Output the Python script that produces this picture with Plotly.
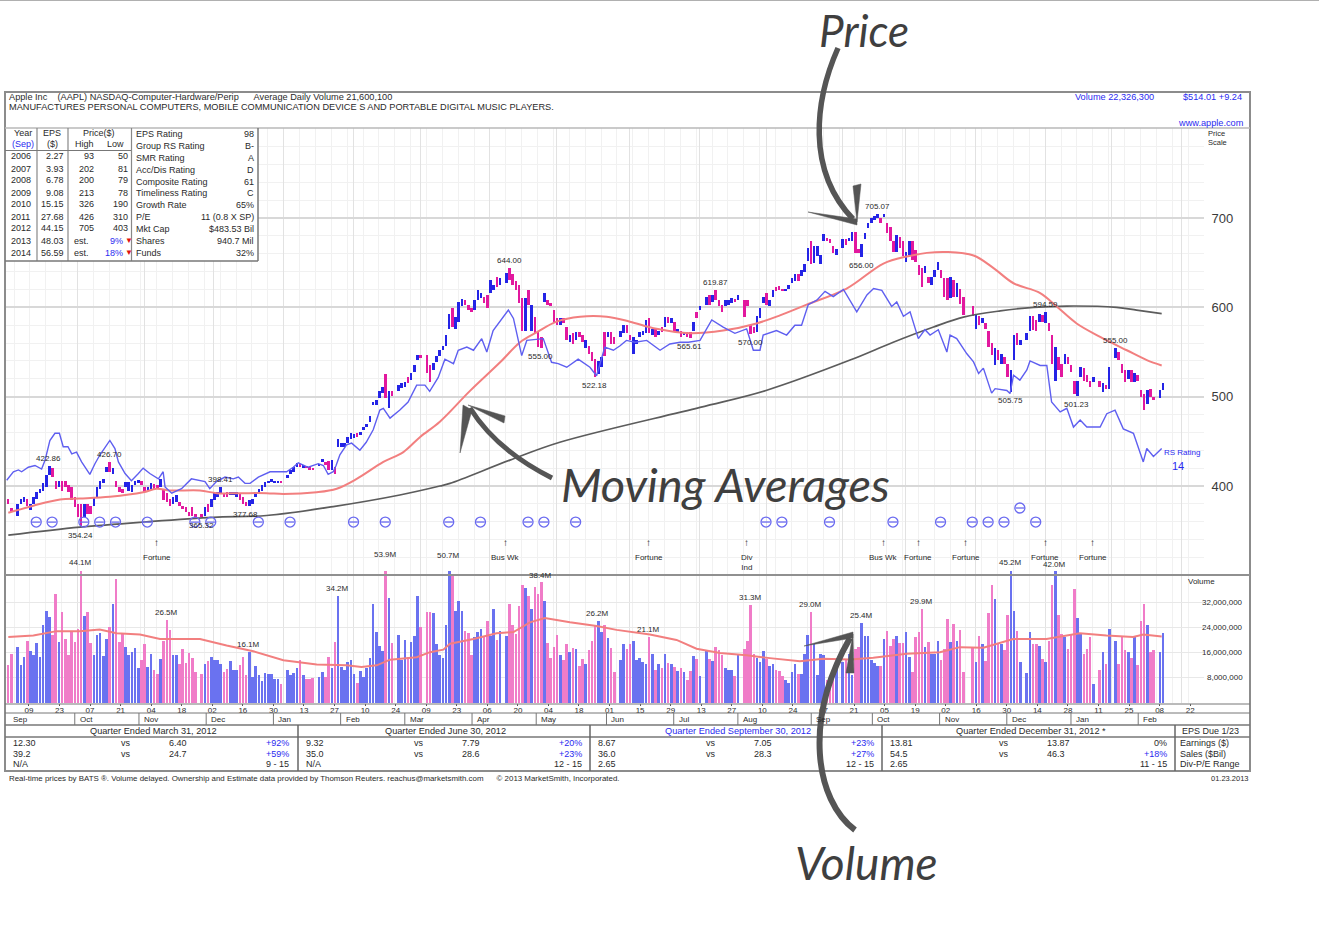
import plotly.graph_objects as go

PAGE_W, PAGE_H = 1319, 939

# Daily session flags: B = up day, P = down day, . = no bar drawn
flags = (
    ".PP.BBBPBB" "BBBBBPPBPP" "PPPPPBPPBB" "BBBPBPPPBB" "BBBPPBBPPB"
    "PPPBBPPPPP" "P.PBPBBBBP" "PBBBPPPBBB" "BBBBBBBP.B" "BBBPBPPP.B"
    "BPPBPBBBBB" "BPBBBBBBBB" "PBP.BBBPBB" "BP.PPBBBBB" "BPBBBPPPBB"
    "BPPBBPB.BP" "PPPPBPBPPP" "BPPPPBPPBP" "BPPBPPPBBP" "BPP.BBPPBB"
    "BBBPBPBPBP" "BPBPBPPBPB" ".BPBPPPBBB" "PB.PPPPBBB" "PBBPPPBBBB"
    "PBBBPBBBBP" "PPB.BPBBPP" "BBBBBBPBPP" "PBPPBBPPPP" "BPBBBPPPBP"
    "BPP..PBPBP" "PPBPBPPBBP" "B.BBPPBPBP" "PBPPBPPPBB" "PPPB.PBPB."
    "BPPPBPBPPP" "BPP.BB"
)

high = [
    None, 386, 375, None, 380, 386, 388, 386, 380, 388,
    393, 397, 403, 412, 422.86, 420, 406, 406, 406, 406,
    401, 399, 388, 380, 380, 380, 380, 378, 388, 399,
    406, 408, 421, 426.70, 420, 406, 399, 397, 405, 405,
    401, 406, 407, 406, 399, 399, 403, 402, 401, 408,
    397, 392, 386, 388, 390, 382, 378, 376, 371, 377,
    369, None, 369, 377, 380, 386, 392, 393, 398.41, 392,
    393, 393, 393, 393, 392, 388, 382, 384, 386, 393,
    397, 401, 405, 406, 408, 406, 406, 406, None, 412,
    418, 421, 426, 425, 423, 422, 421, 420, None, 425,
    430, 427, 428, 429, 421, 453, 448, 448, 455, 459,
    458, 459, 461, 466, 469, 478, 494, 496, 506, 511,
    525, 506, 506, None, 513, 515, 517, 522, 526, 535,
    547, 547, None, 547, 535, 538, 546, 552, 557, 569,
    593, 599, 589, 606, 609, 608, 603, 599, 608, 620,
    616, 612, 614, 631, 625, 634, 633, None, 638, 644.00,
    637, 629, 625, 610, 610, 620, 603, 589, 572, 567,
    616, 608, 605, 597, 588, 588, 588, 578, 569, 571,
    572, 572, 569, 563, 557, 550, 542, 540, 544, 572,
    572, 572, 567, None, 574, 580, 580, 569, 567, 563,
    572, 574, 586, 588, 576, 576, 574, 578, 589, 589,
    588, 584, 576, 574, 572, 572, 572, 584, 595, 601,
    None, 612, 614, 614, 619.87, 608, 603, 608, 608, 610,
    609, 614, None, 608, 608, 580, 578, 590, 599, 612,
    616, 608, 620, 623, 624, 621, 621, 625, 633, 637,
    637, 642, 648, 667, 674, 669, 669, 659, 682, 678,
    676, 669, 665, None, 676, 677, 678, 684, 684, 665,
    671, 683, 694, 700, 702, 705.07, 700, 704, 694, 690,
    674, 681, 679, 674, 662, 674, 674, 664, 647, 644,
    646, 634, 634, 642, 651, 642, 633, 633, 634, 631,
    627, 621, 612, None, None, 601, 591, 590, 588, 582,
    573, 560, 554, 552, 548, 545, 537, 530, 569, 571,
    563, None, 571, 590, 590, 586, 593, 591, 594.59, 582,
    569, 556, 545, 537, 548, 545, 535, 518, 518, 533,
    532, 524, 518, 522, None, 518, 515, 513, 533, None,
    555.00, 550, 537, 530, 530, 530, 526, 524, 507, 503,
    507, 509, 500, None, 507, 515,
]

low = [
    None, 380, 371, None, 367, 380, 382, 378, 373, 380,
    386, 392, 395, 399, 412, 410, 397, 399, 395, 399,
    393, 384, 377, 365, 354.24, 365, 369, 369, 378, 388,
    397, 403, 416, 416, 413, 399, 393, 392, 399, 395,
    393, 401, 403, 401, 393, 395, 397, 397, 397, 399,
    384, 382, 378, 380, 382, 378, 374, 371, 366, 367,
    364, None, 365.32, 367, 371, 377, 384, 388, 391, 388,
    388, 391, 390, 388, 384, 380, 377.68, 378, 380, 388,
    392, 395, 399, 403, 405, 403, 403, 404, None, 409,
    413, 416, 421, 421, 421, 421, 419, 418, None, 423,
    427, 423, 418, 418, 414, 444, 444, 444, 448, 453,
    454, 455, 457, 463, 466, 472, 491, 491, 498, 504,
    498, 487, 501, None, 506, 510, 511, 515, 519, 528,
    541, 543, None, 526, 517, 530, 539, 546, 552, 557,
    576, 578, 576, 584, 601, 603, 597, 595, 597, 608,
    610, 605, 599, 616, 620, 623, 625, None, 627, 631,
    625, 620, 605, 574, 574, 603, 574, 571, 556, 555.00,
    606, 603, 601, 582, 580, 580, 582, 563, 561, 559,
    563, 567, 561, 555, 548, 540, 522.18, 525, 533, 546,
    567, 559, 559, None, 567, 571, 571, 563, 548, 559,
    567, 569, 571, 571, 569, 567, 569, 572, 578, 582,
    582, 572, 571, 567, 569, 567, 565.61, 574, 588, 597,
    None, 603, 603, 606, 608, 601, 595, 601, 603, 605,
    606, 608, None, 589, 601, 570.00, 571, 572, 588, 605,
    603, 601, 612, 618, 620, 618, 618, 621, 627, 629,
    629, 635, 640, 652, 648, 650, 657, 648, 674, 674,
    672, 661, 659, None, 667, 670, 674, 674, 661, 661,
    656.00, 676, 689, 694, 698, 700, 694, 702, 683, 674,
    662, 662, 666, 657, 651, 659, 653, 651, 636, 623,
    638, 627, 625, 634, 642, 633, 612, 608, 610, 612,
    612, 604, 591, None, None, 590, 576, 580, 582, 576,
    556, 547, 535, 541, 537, 537, 522, 505.75, 541, 558,
    558, None, 563, 573, 575, 573, 584, 584, 582, 573,
    537, 518, 530, 522, 537, 537, 528, 503, 501.23, 522,
    518, 517, 511, 517, None, 511, 505, 509, 509, None,
    543, 541, 526, 517, 520, 517, 517, 518, 500, 485,
    492, 500, 496, None, 498, 507,
]

# Daily volume, millions of shares
volume = [
    None, 12.0, 15.7, None, 18.0, 12.2, 14.6, 19.9, 16.5, 15.4,
    19.1, 14.6, 25.0, 29.4, 27.5, 21.8, 34.7, 19.4, 28.9, 20.4,
    15.2, 22.9, 19.4, 23.6, 44.1, 27.8, 28.9, 19.1, 15.4, 21.8,
    22.2, 15.0, 20.4, 24.1, 31.5, 39.4, 19.4, 22.0, 17.8, 15.2,
    16.2, 17.6, 11.2, 13.6, 18.9, 11.5, 15.7, 10.4, 9.4, 14.1,
    19.9, 26.5, 23.4, 15.2, 15.4, 12.5, 17.3, 12.8, 15.9, 14.4,
    9.9, None, 9.1, 12.5, 13.3, 14.6, 13.8, 13.6, 12.5, 9.9,
    10.8, 13.4, 10.4, 10.4, 12.0, 14.6, 8.9, 16.1, 8.3, 11.9,
    8.9, 7.1, 9.6, 9.2, 9.4, 7.8, 7.5, 6.2, None, 10.6,
    8.9, 9.6, 11.3, 13.8, 8.9, 7.5, 7.5, 7.9, None, 8.3,
    9.9, 8.3, 14.6, 11.0, 19.4, 34.2, 11.5, 10.4, 13.1, 13.8,
    9.2, 6.5, 10.1, 8.3, 11.3, 14.3, 31.7, 22.6, 18.3, 16.5,
    53.9, 33.6, 19.1, None, 21.8, 13.6, 20.1, 14.6, 19.4, 21.2,
    34.1, 24.3, None, 28.9, 28.9, 28.6, 18.9, 15.2, 14.4, 24.7,
    50.7, 40.5, 29.4, 32.4, 29.2, 22.9, 22.2, 15.2, 21.0, 22.6,
    23.6, 21.2, 26.2, 21.5, 29.9, 20.1, 23.1, None, 21.2, 31.7,
    25.0, 22.0, 30.8, 37.6, 36.8, 34.1, 29.9, 37.0, 34.7, 38.4,
    32.6, 19.1, 14.4, 18.0, 21.8, 15.2, 13.8, 18.9, 16.2, 17.6,
    17.3, 11.7, 14.1, 12.3, 17.0, 19.9, 24.7, 26.2, 22.6, 24.7,
    20.8, 17.6, 9.9, None, 13.6, 18.9, 17.3, 18.7, 19.9, 13.8,
    14.4, 13.1, 12.3, 21.1, 15.5, 10.4, 12.3, 11.2, 15.7, 12.8,
    12.5, 11.5, 10.2, 11.0, 9.9, 7.3, 10.2, 14.9, 14.1, 8.5,
    None, 17.0, 14.1, 13.4, 18.0, 16.8, 15.2, 11.0, 10.6, 10.4,
    8.6, 15.7, None, 17.3, 19.9, 31.3, 15.7, 14.4, 13.1, 16.5,
    14.1, 11.7, 12.3, 10.4, 10.2, 8.5, 7.3, 6.4, 9.9, 12.3,
    9.2, 9.2, 15.7, 21.8, 29.0, 18.9, 8.9, 15.7, 15.2, 7.3,
    7.1, 10.4, 12.0, None, 13.1, 13.6, 15.7, 8.9, 17.3, 17.8,
    25.4, 21.2, 21.2, 13.8, 12.8, 11.7, 11.7, 20.4, 22.9, 18.3,
    20.4, 21.2, 19.1, 19.1, 22.6, 14.6, 9.9, 21.0, 22.6, 29.9,
    18.0, 19.4, 15.7, 15.5, 19.7, 13.8, 17.3, 26.8, 19.4, 25.2,
    19.9, 23.4, 9.9, None, None, 18.0, 13.1, 21.5, 18.9, 13.4,
    28.6, 37.6, 33.1, 18.9, 18.9, 16.8, 28.1, 45.2, 29.4, 22.9,
    13.1, None, 9.6, 22.6, 18.9, 18.7, 18.3, 14.1, 13.1, 19.9,
    37.6, 42.0, 28.1, 22.0, 21.0, 17.3, 21.8, 36.3, 27.1, 22.0,
    15.7, 17.3, 21.0, 6.0, None, 10.4, 16.2, 12.5, 23.6, None,
    19.9, 12.3, 21.2, 17.0, 16.2, 14.3, 21.2, 12.0, 26.2, 31.5,
    24.7, 16.2, 17.0, None, 16.2, 22.3,
]

# Relative-strength line, drawn on the price scale
rs_idx = [
    0.7, 2.8, 4.4, 5.4, 7.5, 9.6, 11.7, 12.8, 14.3, 15.9, 17.3, 18.5, 20, 21.2, 22.7, 24.3,
    26.9, 28.5, 30.1, 31.7, 33.2, 34.8, 35.9, 38, 40, 42.2, 43.7, 45.8, 48.5, 50, 50.6, 52.7,
    55.8, 58.9, 63.2, 64.7, 66.8, 69.5, 72.1, 73.7, 75.8, 77.4, 80, 83.7, 88.9, 91, 92.6, 95.7,
    98.9, 100.5, 102, 103.6, 104.5, 105.7, 107.8, 109.4, 112, 114, 116.2, 118.3, 119.4, 121.5,
    124.6, 127.2, 129.9, 132.5, 134, 136.7, 138.8, 141.5, 143, 145.7, 147.8, 150.4, 152, 154,
    158.8, 160.4, 163, 164.6, 169.8, 172.4, 174.5, 177.2, 180.8, 184.5, 186.6, 189.2, 191.9,
    194, 196, 198.7, 202.4, 206.6, 209.7, 212.9, 215.5, 219.2, 222.9, 226.5, 230.2, 233.9, 236,
    238.1, 239.1, 243.3, 246.5, 249.1, 251.2, 253.3, 256, 258.6, 261.2, 264.4, 268.6, 271.8,
    273.9, 276.5, 279.6, 281.2, 283.3, 285.4, 288, 290.1, 291.7, 294.3, 297, 298, 300.1, 303.3,
    305.4, 307, 308.5, 311.1, 312.2, 315.9, 316.9, 318, 320, 322.2, 323.2, 326.4, 328.5, 330,
    332.7, 334.8, 336.9, 339, 341.1, 345.3, 347.4, 350, 352.6, 355.8, 358.9, 360, 362.1, 364.7,
]
rs_val = [
    406.5, 416, 418, 416, 421, 423, 419, 429, 451, 459, 459, 444, 444, 436, 438, 427,
    413, 425, 435, 444, 451, 442, 427, 414, 406, 414, 420, 414, 408, 416, 399, 392,
    397, 408, 405, 397, 405, 410, 408, 410, 403, 403, 410, 416, 416, 421, 426, 421,
    425, 423, 413, 416, 423, 435, 446, 448, 440, 449, 463, 485, 487, 476,
    485, 494, 513, 513, 506, 521.6, 542, 537, 552, 555.5, 552, 565, 550, 574,
    597, 587.6, 546, 563, 565, 538.5, 537, 533, 542, 533, 523.5, 555.5, 552,
    557, 563, 561, 563, 552, 559, 561, 561, 563, 586, 578, 571, 576, 552,
    552, 569, 574, 569, 580, 580, 603, 608, 618, 612, 620, 595, 614,
    621, 619, 601, 606, 590, 595, 565, 575, 569, 575, 550, 569, 565, 548,
    539, 526, 532, 504, 509, 507, 503.5, 524, 518.5, 530, 540, 535, 535, 494,
    483, 487, 466, 474, 466, 466, 481, 485, 464, 459, 427, 442, 433, 442,
]

# 50-day moving average of price
ma50_idx = [
    1.2, 9.1, 17.5, 23.8, 33.2, 43.7, 47.9, 52.2, 61.6, 66.9, 74.2, 82.6, 87.9, 98.4, 104.7,
    111, 119.4, 125.7, 131, 137.2, 146.7, 156.2, 162.5, 167.7, 174, 181.4, 189.8, 197.1, 205.5,
    216, 226.5, 237, 244.4, 252.8, 265.4, 277, 284.4, 290.7, 297, 305.4, 311.7, 318, 326.4,
    331.6, 337.9, 345.3, 353.7, 360, 364.7,
]
ma50_val = [
    370, 378, 385, 386, 388, 393, 397, 395, 395, 392, 392, 392, 391, 393, 397,
    408, 427, 438, 455, 472, 506.5, 538.5, 561, 572, 584, 589.5, 589.5, 584, 576,
    571, 574, 582, 591, 603, 621, 649, 657, 661, 662, 658, 644, 627, 616,
    601, 582, 567, 552, 541, 535,
]

# 200-day moving average of price
ma200_idx = [
    1.2, 23.8, 44.8, 65.8, 82.6, 103.6, 124.6, 137.2, 140.4, 159.3, 175, 219.2, 240, 266.5,
    280.1, 292.8, 302.2, 313.8, 324.3, 334.8, 350.5, 356.8, 364.7,
]
ma200_val = [
    345, 354, 360, 365, 367, 377, 390, 400, 403, 429, 449, 488, 507, 541,
    561, 578, 589, 596, 600, 601.5, 600, 597, 593,
]

# 50-day moving average of volume, millions of shares
volma_idx = [
    1.2, 9.1, 16.4, 23.8, 30, 35.3, 42.7, 49, 61.6, 70, 78.4, 87.9, 98.4, 107.8, 112.5, 117.3,
    121.5, 129.9, 134.1, 138.3, 140.4, 147.8, 155.1, 160.4, 165.6, 170.3, 178.2, 186.6, 192.9,
    203.4, 211.8, 218.1, 225.5, 233.9, 241.2, 250.7, 258, 266.5, 273.8, 284.3, 294.8, 301.1,
    308.5, 317.9, 328.4, 338.9, 347.3, 355.7, 358.9, 364.7,
]
volma_val = [
    21, 21.5, 22.9, 22.9, 23.4, 22.2, 21.8, 20.4, 20.4, 18.3, 16.5, 13.6, 12.3, 12, 11.5, 12,
    13.8, 14.6, 16.2, 17, 18.9, 20.4, 22.2, 22.6, 25.7, 27.1, 25.7, 24.5, 23.3,
    21.8, 20.1, 17.3, 15.9, 15.2, 14.3, 13.3, 14.1, 13.9, 14.4, 15.7, 16.2, 17.8,
    17.6, 20.4, 20.4, 22.2, 21.5, 21, 21.8, 21.2,
]

high_labels = [14, 33, 68, 159, 224, 275, 328, 350]
low_labels = [24, 62, 76, 169, 186, 216, 235, 270, 317, 338]

vol_labels = [24, 51, 77, 105, 120, 140, 169, 187, 203, 235, 254, 270, 289, 317, 331]
vol_label_lift = [2, 1, 1, 1, 10, 9, 0, 1, 1, 1, 1, 1, 1, 2, 0]

circle_idx = [10, 15, 25, 30, 35, 45, 60, 65, 80, 90, 110, 120, 140, 150, 165, 170, 180,
              240, 245, 260, 280, 295, 305, 310, 315, 325]
circle_level = 359.7
raised_circle_idx = [320]
raised_circle_level = 375.4

news_idx = [48, 158, 203, 234, 277, 288, 303, 328, 343]
news_text = ["Fortune", "Bus Wk", "Fortune", "Div<br>Ind", "Bus Wk", "Fortune", "Fortune", "Fortune", "Fortune"]

tick_idx = [8 + 10 * k for k in range(39)]
tick_text = ["09", "23", "07", "21", "04", "18", "02", "16", "30", "13",
             "27", "10", "24", "09", "23", "06", "20", "04", "18", "01",
             "15", "29", "13", "27", "10", "24", "07", "21", "05", "19",
             "02", "16", "30", "14", "28", "11", "25", "08", "22"]

month_idx = [0, 23, 44, 66, 88, 110, 131, 153, 174, 197, 219, 240, 264, 284, 306, 328, 349, 371]
month_text = ["Sep", "Oct", "Nov", "Dec", "Jan", "Feb", "Mar", "Apr", "May", "Jun",
              "Jul", "Aug", "Sep", "Oct", "Nov", "Dec", "Jan", "Feb"]

price_ticks = [400, 500, 600, 700]
vol_ticks = [8, 16, 24, 32]

year_table = [
    ("2006", "2.27", "93", "50"), ("2007", "3.93", "202", "81"), ("2008", "6.78", "200", "79"),
    ("2009", "9.08", "213", "78"), ("2010", "15.15", "326", "190"), ("2011", "27.68", "426", "310"),
    ("2012", "44.15", "705", "403"), ("2013", "48.03", "est.", "9%"), ("2014", "56.59", "est.", "18%"),
]
rating_table = [
    ("EPS Rating", "98"), ("Group RS Rating", "B-"), ("SMR Rating", "A"), ("Acc/Dis Rating", "D"),
    ("Composite Rating", "61"), ("Timeliness Rating", "C"), ("Growth Rate", "65%"),
    ("P/E", "11 (0.8 X SP)"), ("Mkt Cap", "$483.53 Bil"), ("Shares", "940.7 Mil"), ("Funds", "32%"),
]
quarter_titles = ["Quarter Ended March 31, 2012", "Quarter Ended June 30, 2012",
                  "Quarter Ended September 30, 2012", "Quarter Ended December 31, 2012 *"]
quarter_rows = [
    [("12.30", "6.40", "+92%"), ("39.2", "24.7", "+59%"), ("N/A", "", "9 - 15")],
    [("9.32", "7.79", "+20%"), ("35.0", "28.6", "+23%"), ("N/A", "", "12 - 15")],
    [("8.67", "7.05", "+23%"), ("36.0", "28.3", "+27%"), ("2.65", "", "12 - 15")],
    [("13.81", "13.87", "0%"), ("54.5", "46.3", "+18%"), ("2.65", "", "11 - 15")],
]
row_names = ["Earnings ($)", "Sales ($Bil)", "Div-P/E Range"]

# Colours
UP_BAR, DOWN_BAR = "#2424e6", "#e2189e"
UP_VOL, DOWN_VOL = "#6a72f0", "#f07cc8"
MA_RED, MA_DARK = "#f27f7f", "#5c5c5c"
RS_BLUE = "#5f5ff0"
CIRCLE = "#6a6af0"
TEXT = "#2a2a2a"
LINK = "#2a2af0"
RULE = "#8c8c8c"
INK = "#555555"
FONT = "Liberation Sans"

# Page geometry in pixels, converted to paper fractions
def fx(px):
    return px / PAGE_W

def fy(px):
    return 1 - px / PAGE_H

BAR_X0, BAR_STEP = 4.5, 3.173
PLOT_RIGHT, STRIP_RIGHT = 1204, 1250
x_end = (PLOT_RIGHT - BAR_X0) / BAR_STEP
strip_end = (STRIP_RIGHT - BAR_X0) / BAR_STEP

fig = go.Figure()

# Price bars: one high-to-low stem per session
sessions = [i for i, f in enumerate(flags) if f != "."]
fig.add_trace(go.Bar(
    x=sessions, base=[low[i] for i in sessions], y=[high[i] - low[i] for i in sessions],
    width=0.8, marker=dict(color=[UP_BAR if flags[i] == "B" else DOWN_BAR for i in sessions], line_width=0),
    xaxis="x", yaxis="y", hoverinfo="skip",
))
# Moving averages and the relative-strength line
fig.add_trace(go.Scatter(x=ma200_idx, y=ma200_val, mode="lines", line=dict(color=MA_DARK, width=1.7, shape="spline"), xaxis="x", yaxis="y"))
fig.add_trace(go.Scatter(x=ma50_idx, y=ma50_val, mode="lines", line=dict(color=MA_RED, width=2, shape="spline"), xaxis="x", yaxis="y"))
fig.add_trace(go.Scatter(x=rs_idx, y=rs_val, mode="lines", line=dict(color=RS_BLUE, width=1.4), xaxis="x", yaxis="y"))

# Event circles on the price panel
circle_x = circle_idx + raised_circle_idx
circle_y = [circle_level] * len(circle_idx) + [raised_circle_level] * len(raised_circle_idx)
fig.add_trace(go.Scatter(x=circle_x, y=circle_y, mode="markers",
                         marker=dict(symbol="circle-open", size=10, color=CIRCLE, line=dict(color=CIRCLE, width=1.3)),
                         xaxis="x", yaxis="y"))
fig.add_trace(go.Scatter(x=circle_x, y=circle_y, mode="markers",
                         marker=dict(symbol="line-ew", size=6, color=CIRCLE, line=dict(color=CIRCLE, width=1.3)),
                         xaxis="x", yaxis="y"))

# Volume bars and their average
vol_sessions = [i for i, v in enumerate(volume) if v is not None]
fig.add_trace(go.Bar(
    x=vol_sessions, y=[volume[i] for i in vol_sessions], width=0.82,
    marker=dict(color=[UP_VOL if flags[i] == "B" else DOWN_VOL for i in vol_sessions], line_width=0),
    xaxis="x2", yaxis="y2", hoverinfo="skip",
))
fig.add_trace(go.Scatter(x=volma_idx, y=volma_val, mode="lines", line=dict(color=MA_RED, width=2), xaxis="x2", yaxis="y2"))
# Carries the date strip axis below the volume panel
fig.add_trace(go.Scatter(x=tick_idx, y=[0] * len(tick_idx), mode="none", xaxis="x3", yaxis="y2"))

annotations = []

def txt(x, y, text, anchor="left", color=TEXT, size=9, **kw):
    annotations.append(dict(x=fx(x), y=fy(y), xref="paper", yref="paper", text=text, showarrow=False,
                            xanchor=anchor, yanchor="middle", borderpad=0,
                            font=dict(family=FONT, size=size, color=color), **kw))

# Pivot prices beside their bars
for i in high_labels:
    annotations.append(dict(x=i, y=high[i], xref="x", yref="y", text=f"{high[i]:.2f}", showarrow=False,
                            yanchor="bottom", yshift=1, font=dict(family=FONT, size=8, color=TEXT)))
for i in low_labels:
    annotations.append(dict(x=i, y=low[i], xref="x", yref="y", text=f"{low[i]:.2f}", showarrow=False,
                            yanchor="top", yshift=-2, font=dict(family=FONT, size=8, color=TEXT)))

# Volume peaks; the bars above the scale are cut by the panel
VOL_TOP = 42.06
for i, lift in zip(vol_labels, vol_label_lift):
    annotations.append(dict(x=i, y=min(volume[i], VOL_TOP), xref="x2", yref="y2", text=f"{volume[i]:.1f}M",
                            showarrow=False, yanchor="bottom", yshift=lift,
                            font=dict(family=FONT, size=8, color=TEXT)))

# Volume scale, right-aligned
for v in vol_ticks:
    annotations.append(dict(x=fx(1245), y=v, xref="paper", yref="y2", text=f"{v * 1000000:,}", showarrow=False,
                            xanchor="right", font=dict(family=FONT, size=8, color=TEXT)))
txt(1187, 581, "Volume", size=8)

# News events under the price panel
for i, label in zip(news_idx, news_text):
    annotations.append(dict(x=i, y=337, xref="x", yref="y", text="↑", showarrow=False,
                            font=dict(family=FONT, size=10, color=TEXT)))
    annotations.append(dict(x=i, y=327, xref="x", yref="y", text=label, showarrow=False, yanchor="top",
                            font=dict(family=FONT, size=8, color=TEXT)))

# Month strip
for i, label in zip(month_idx, month_text):
    annotations.append(dict(x=i, y=fy(719), xref="x3", yref="paper", text=label, showarrow=False, xanchor="left",
                            yanchor="middle", xshift=3 if i else 6, font=dict(family=FONT, size=8, color=TEXT)))

# Heading block
txt(8, 97, "Apple Inc &nbsp;&nbsp; (AAPL) NASDAQ-Computer-Hardware/Perip &nbsp;&nbsp;&nbsp;&nbsp; Average Daily Volume 21,600,100", size=9.2)
txt(8, 107, "MANUFACTURES PERSONAL COMPUTERS, MOBILE COMMUNICATION DEVICE S AND PORTABLE DIGITAL MUSIC PLAYERS.", size=9.2)
txt(1155, 97, "Volume 22,326,300", "right", LINK, size=9.2)
txt(1243, 97, "$514.01 +9.24", "right", LINK, size=9.2)
txt(1245, 123, "www.apple.com", "right", LINK, size=9.2)
txt(1207, 133, "Price", size=7.5)
txt(1207, 143, "Scale", size=7.5)

# Yearly earnings table
txt(23, 133, "Year", "center")
txt(23, 144, "(Sep)", "center", LINK)
txt(52, 133, "EPS", "center")
txt(52, 144, "($)", "center")
txt(99, 133, "Price($)", "center")
txt(84, 144, "High", "center")
txt(115, 144, "Low", "center")
for r, (yr, eps, hi, lo) in enumerate(year_table):
    y = 156.5 + 12 * r
    txt(10, y, yr)
    txt(65, y, eps, "right")
    est = yr in ("2013", "2014")
    txt(73 if est else 95, y, hi, "left" if est else "right")
    txt(124 if est else 129, y, lo, "right", LINK if est else TEXT)
    if est:
        txt(129, y, "▼", "center", "#e01010", size=8)
for r, (name, val) in enumerate(rating_table):
    y = 134 + 11.9 * r
    txt(135, y, name)
    txt(255, y, val, "right")

# Quarterly comparison block
for c, title in enumerate(quarter_titles):
    left = 8 + 292.5 * c
    txt(left + 145, 731, title, "center", LINK if c == 2 else TEXT, size=9.2)
    for r, (a, b, pct) in enumerate(quarter_rows[c]):
        y = 743 + 10.5 * r
        txt(left + 4, y, a)
        if b:
            txt(left + 112, y, "vs")
            txt(left + 160, y, b)
        txt(left + 282, y, pct, "right", LINK if pct.startswith("+") else TEXT)
txt(1210, 731, "EPS Due 1/23", "center")
for r, name in enumerate(row_names):
    txt(1179, 743 + 10.5 * r, name)
txt(8, 778, "Real-time prices by BATS ®. Volume delayed. Ownership and Estimate data provided by Thomson Reuters. reachus@marketsmith.com &nbsp;&nbsp;&nbsp;&nbsp; © 2013 MarketSmith, Incorporated.", size=7.9)
txt(1250, 778, "01.23.2013", "right", size=7.5)
txt(1163, 452, "RS Rating", "left", LINK, size=8)
txt(1178, 466, "14", "center", LINK, size=11)

# Handwritten callouts
def callout(x, y, text, size):
    annotations.append(dict(x=fx(x), y=fy(y), xref="paper", yref="paper", text=text, showarrow=False,
                            xanchor="center", yanchor="middle",
                            font=dict(family="Lato", size=size, color="#3f3f3f", style="italic")))

callout(864, 30, "Price", 44)
callout(726, 484, "Moving Averages", 47)
callout(866, 862, "Volume", 46)

shapes = []

def pt(x, y):
    return f"{fx(x):.5f} {fy(y):.5f}"

def rule(x0, y0, x1, y1, color=RULE, width=1.5):
    shapes.append(dict(type="line", xref="paper", yref="paper", x0=fx(x0), y0=fy(y0), x1=fx(x1), y1=fy(y1),
                       line=dict(color=color, width=width), layer="above"))

def stroke(p0, c0, c1, p1, width):
    shapes.append(dict(type="path", xref="paper", yref="paper", layer="above",
                       path=f"M {pt(*p0)} C {pt(*c0)} {pt(*c1)} {pt(*p1)}",
                       line=dict(color=INK, width=width)))

def barb(tip, a, b):
    shapes.append(dict(type="path", xref="paper", yref="paper", layer="above",
                       path=f"M {pt(*tip)} L {pt(*a)} L {pt(*b)} Z",
                       fillcolor=INK, line=dict(color=INK, width=0.5)))

# White panel behind the earnings tables
shapes.append(dict(type="rect", xref="paper", yref="paper", x0=fx(5), x1=fx(258), y0=fy(128), y1=fy(261),
                   fillcolor="white", line_width=0, layer="above"))

rule(0, 0.5, PAGE_W, 0.5, "#b0b0b0", 1)
shapes.append(dict(type="rect", xref="paper", yref="paper", x0=fx(5), x1=fx(STRIP_RIGHT), y0=fy(92), y1=fy(771),
                   line=dict(color=RULE, width=2), layer="above"))
rule(5, 128, STRIP_RIGHT, 128, "#b8b8b8", 1.5)
rule(5, 575, STRIP_RIGHT, 575, "#909090", 2)
rule(5, 704, STRIP_RIGHT, 704, "#777777", 1)
rule(5, 713, STRIP_RIGHT, 713, "#777777", 1)
rule(5, 725, STRIP_RIGHT, 725, "#777777", 1.5)
rule(5, 737, STRIP_RIGHT, 737, "#777777", 1.5)
for x in (298, 590, 882, 1175):
    rule(x, 725, x, 771, "#666666", 1.5)
for x in (37, 68, 131.5):
    rule(x, 128, x, 261, "#888888", 1.2)
rule(258, 128, 258, 261, "#777777", 1.5)
rule(5, 150.5, 131, 150.5, "#777777", 1.2)
rule(5, 261, 258, 261, "#777777", 1.5)
for i in month_idx[1:]:
    shapes.append(dict(type="line", xref="x3", yref="paper", x0=i, x1=i, y0=fy(713), y1=fy(725),
                       line=dict(color="#777777", width=1), layer="above"))

# Callout arrows
stroke((838, 48), (815, 100), (806, 170), (853, 219), 5.5)
barb((808, 212), (857, 219), (857, 225))
barb((857, 222), (853, 186), (861, 184))
stroke((552, 478), (520, 462), (490, 440), (470, 408), 5)
barb((460, 453), (463, 405), (472, 410))
barb((468, 405), (505, 416), (504, 423))
stroke((855, 830), (815, 800), (803, 720), (850, 638), 6)
barb((804, 646), (853, 632), (853, 638))
barb((853, 634), (846, 673), (854, 673))

GRID_MAJOR, GRID_MINOR = "#e2e2e2", "#f1f1f1"
vertical_grid = dict(
    range=[0, x_end], domain=[fx(BAR_X0), fx(PLOT_RIGHT)], tickmode="array", tickvals=month_idx[1:],
    showticklabels=False, ticks="", showgrid=True, gridcolor=GRID_MAJOR, gridwidth=1, zeroline=False,
    showline=False, minor=dict(tickmode="linear", tick0=3, dtick=5, showgrid=True, gridcolor=GRID_MINOR, gridwidth=1),
)

fig.update_layout(
    width=PAGE_W, height=PAGE_H, margin=dict(l=0, r=0, t=0, b=0, pad=0),
    autosize=False, paper_bgcolor="white", plot_bgcolor="rgba(0,0,0,0)",
    showlegend=False, barmode="overlay", bargap=0,
    annotations=annotations, shapes=shapes,
    xaxis=dict(anchor="y", **vertical_grid),
    xaxis2=dict(anchor="y2", **vertical_grid),
    xaxis3=dict(
        anchor="y2", overlaying="x2", range=[0, strip_end], domain=[fx(BAR_X0), fx(STRIP_RIGHT)],
        tickmode="array", tickvals=tick_idx, ticktext=tick_text, ticks="outside", ticklen=2, tickcolor="#555555",
        tickwidth=1, ticklabelstandoff=-3, tickfont=dict(family=FONT, size=8, color=TEXT),
        showgrid=False, zeroline=False, showline=False,
    ),
    yaxis=dict(
        anchor="x", side="right", range=[300.4, 800.8], domain=[fy(575), fy(128)], tickmode="array",
        tickvals=price_ticks, tickfont=dict(family=FONT, size=13, color="#3a3a3a"), ticks="outside", ticklen=4,
        tickcolor="rgba(0,0,0,0)", showgrid=True, gridcolor="#d8d8d8", gridwidth=1.5, zeroline=False,
        minor=dict(tickmode="linear", tick0=300, dtick=20, showgrid=True, gridcolor=GRID_MINOR, gridwidth=1),
    ),
    yaxis2=dict(
        anchor="x2", side="right", range=[0, VOL_TOP], domain=[fy(703), fy(571)], tickmode="array",
        tickvals=vol_ticks, showticklabels=False, ticks="", showgrid=True, gridcolor="#e8e8e8", gridwidth=1,
        zeroline=False,
    ),
)

fig.write_html("out.html")
